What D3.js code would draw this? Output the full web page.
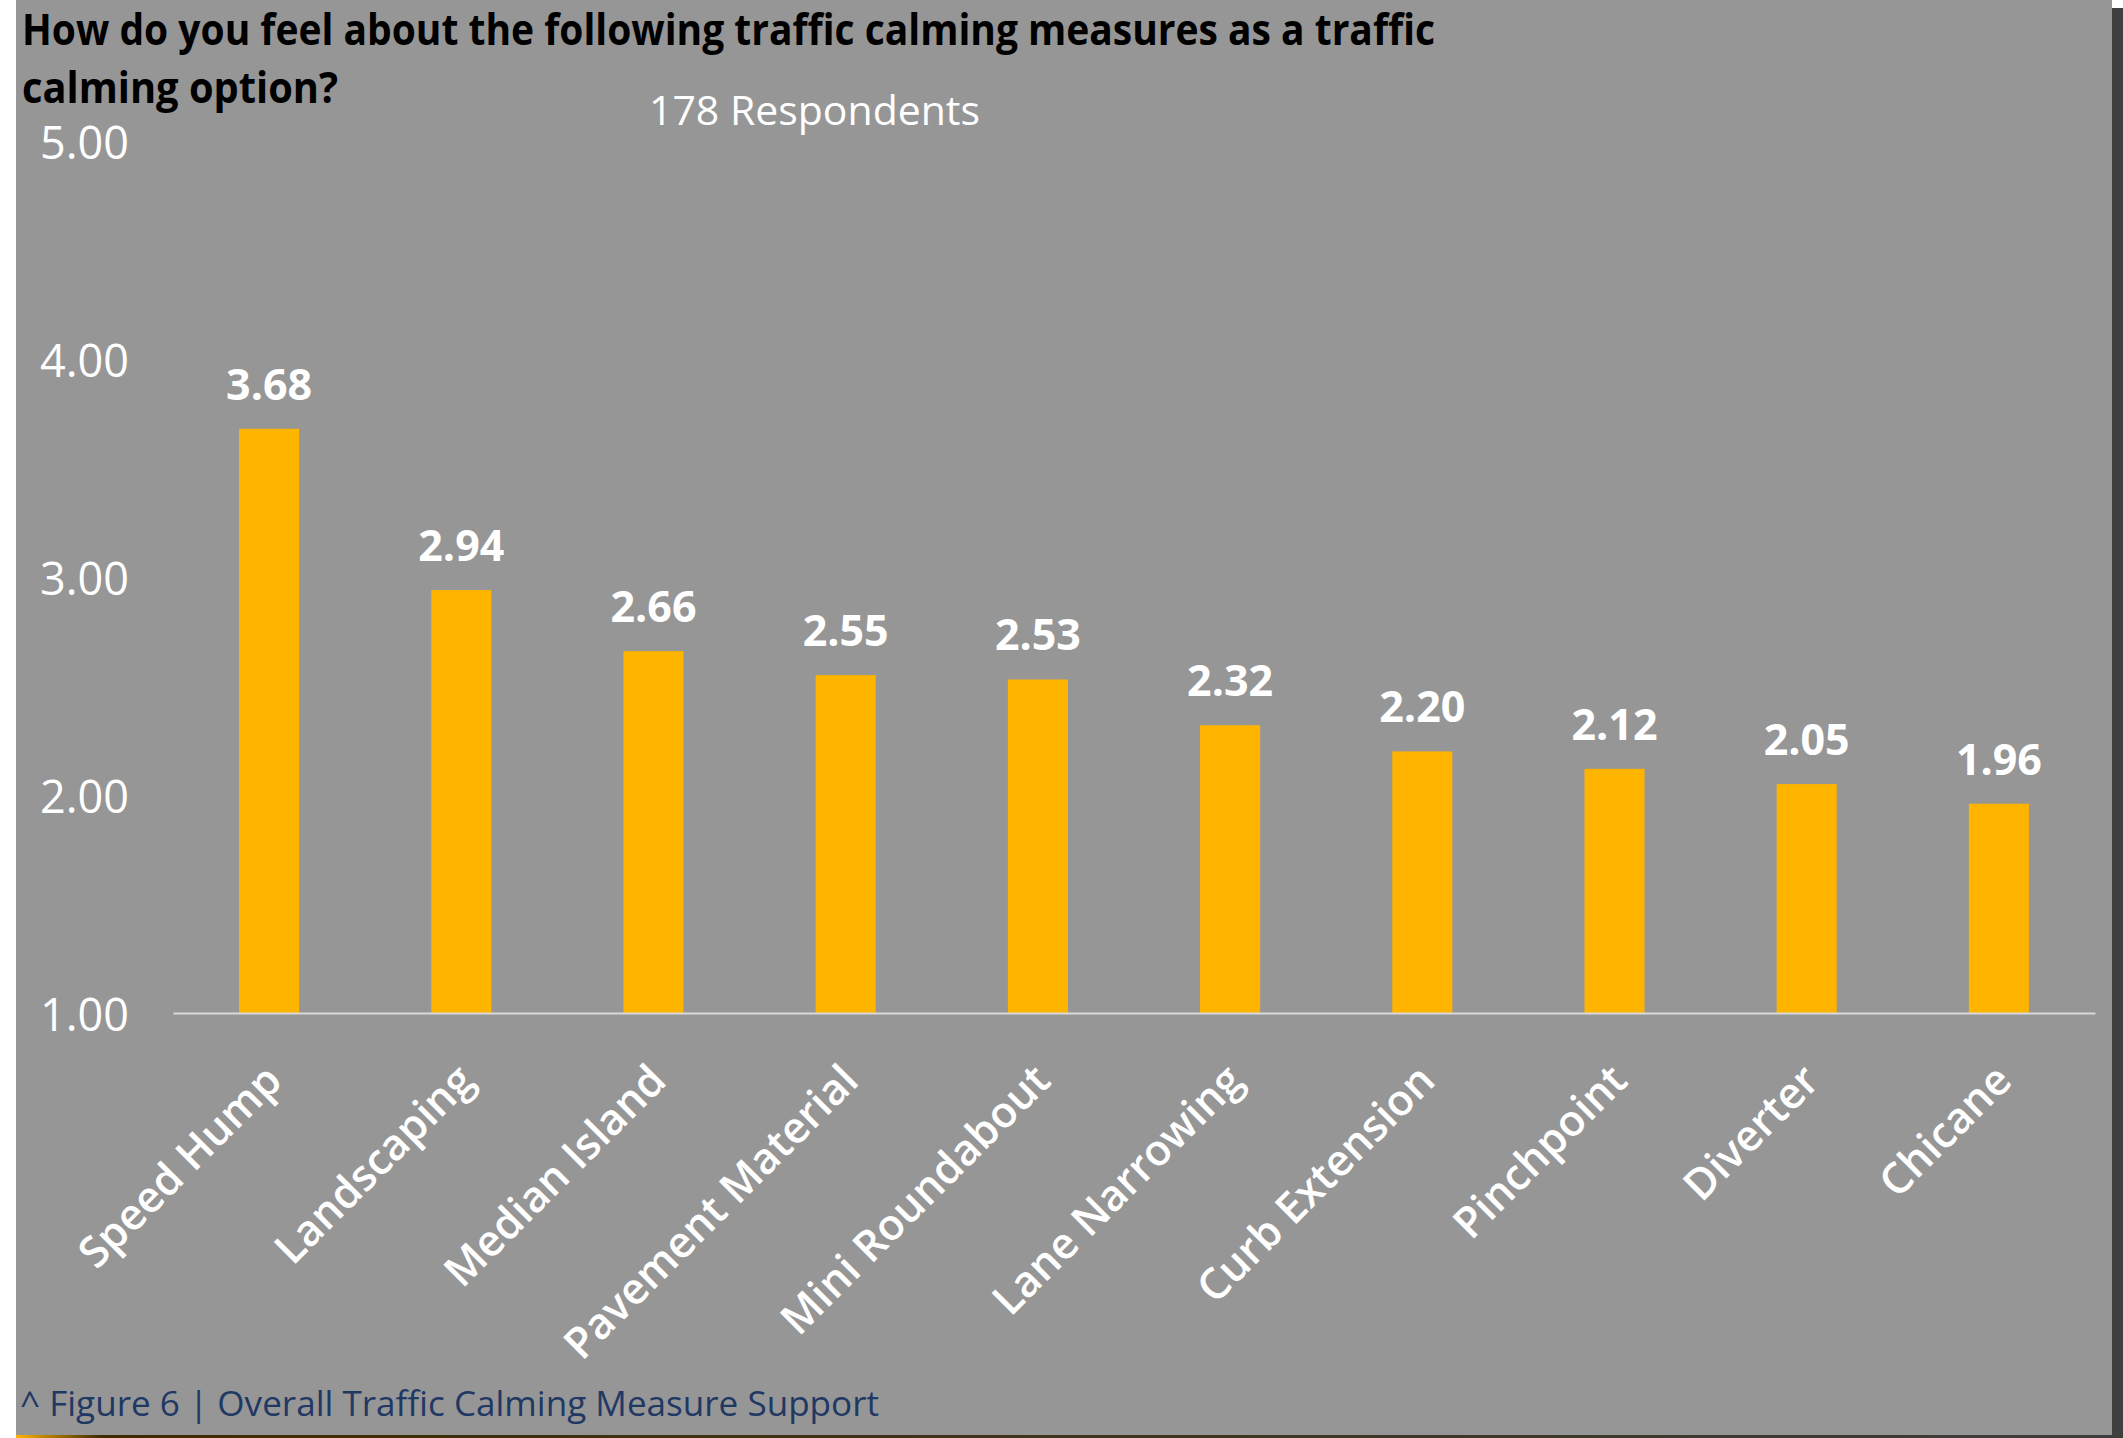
<!DOCTYPE html>
<html>
<head>
<meta charset="utf-8">
<script src="https://cdn.jsdelivr.net/npm/d3@7"></script>
<style>
  html, body { margin: 0; padding: 0; background: #ffffff; }
  svg { display: block; }
  text { font-family: "Open Sans", "Noto Sans", sans-serif; }
</style>
</head>
<body>
<script>
// chart data
const categories = ['Speed Hump', 'Landscaping', 'Median Island', 'Pavement Material',
    'Mini Roundabout', 'Lane Narrowing', 'Curb Extension', 'Pinchpoint', 'Diverter', 'Chicane'];
const scores = [3.68, 2.94, 2.66, 2.55, 2.53, 2.32, 2.20, 2.12, 2.05, 1.96];
const yTicks = [1, 2, 3, 4, 5];
const titleLines = ['How do you feel about the following traffic calming measures as a traffic',
    'calming option?'];
const subtitle = '178 Respondents';
const caption = '^ Figure 6 | Overall Traffic Calming Measure Support';

const width = 2123, height = 1438;

const svg = d3.select('body').append('svg')
    .attr('width', width)
    .attr('height', height);

// page frame: grey panel with dark right / bottom edge
const defs = svg.append('defs');
const edge = defs.append('linearGradient').attr('id', 'bottomEdge');
edge.append('stop').attr('offset', '0%').attr('stop-color', '#ffb400');
edge.append('stop').attr('offset', '4%').attr('stop-color', '#3d2c00');
edge.append('stop').attr('offset', '100%').attr('stop-color', '#3d3d3d');

svg.append('rect').attr('x', 16).attr('y', 0).attr('width', 2096).attr('height', 1435)
    .attr('fill', '#969696');
svg.append('rect').attr('x', 2112).attr('y', 8).attr('width', 11).attr('height', 1430)
    .attr('fill', '#404040');
svg.append('rect').attr('x', 16).attr('y', 1435).attr('width', 2107).attr('height', 3)
    .attr('fill', 'url(#bottomEdge)');

// scales
const x = d3.scaleBand()
    .domain(categories)
    .range([173, 2095])
    .paddingInner(0.6875)
    .paddingOuter(0.34375);

const y = d3.scaleLinear()
    .domain([1, 5])
    .range([1013, 141]);

// y axis labels only
const yAxis = svg.append('g')
    .attr('transform', 'translate(129,0)')
    .call(d3.axisLeft(y).tickValues(yTicks).tickFormat(d3.format('.2f')).tickSize(0).tickPadding(0));
yAxis.select('.domain').remove();
yAxis.selectAll('text')
    .attr('dy', '0.38em')
    .attr('fill', '#ffffff')
    .style('font-family', '"Open Sans", sans-serif')
    .style('font-size', '45px');

// bars
svg.append('g').selectAll('rect')
    .data(scores)
    .join('rect')
    .attr('x', (d, i) => x(categories[i]))
    .attr('y', d => y(d))
    .attr('width', x.bandwidth())
    .attr('height', d => y(1) - y(d))
    .attr('fill', '#ffb400');

// value labels
svg.append('g').selectAll('text')
    .data(scores)
    .join('text')
    .attr('x', (d, i) => x(categories[i]) + x.bandwidth() / 2)
    .attr('y', d => y(d) - 29)
    .attr('text-anchor', 'middle')
    .attr('fill', '#ffffff')
    .style('font-weight', 700)
    .style('font-size', '43px')
    .text(d => d.toFixed(2));

// x axis: base line and rotated category names
const xAxis = svg.append('g')
    .attr('transform', `translate(0,${y(1)})`)
    .call(d3.axisBottom(x).tickSize(0).tickSizeOuter(0));
xAxis.select('.domain')
    .attr('stroke', '#d9d9d9')
    .attr('stroke-width', 2);
xAxis.selectAll('text')
    .attr('y', 0)
    .attr('dy', 0)
    .attr('text-anchor', 'end')
    .attr('transform', 'translate(15,70) rotate(-45)')
    .attr('fill', '#ffffff')
    .style('font-family', '"Open Sans", sans-serif')
    .style('font-weight', 600)
    .style('font-size', '43px');

// titles
svg.append('g').selectAll('text')
    .data(titleLines)
    .join('text')
    .attr('x', 22)
    .attr('y', (d, i) => 45 + i * 58)
    .attr('textLength', (d, i) => i === 0 ? 1413 : 316)
    .attr('lengthAdjust', 'spacingAndGlyphs')
    .attr('fill', '#000000')
    .style('font-weight', 700)
    .style('font-size', '43px')
    .text(d => d);

svg.append('text')
    .attr('x', 649)
    .attr('y', 125)
    .attr('textLength', 331)
    .attr('lengthAdjust', 'spacingAndGlyphs')
    .attr('fill', '#ffffff')
    .style('font-size', '40px')
    .text(subtitle);

svg.append('text')
    .attr('x', 20)
    .attr('y', 1416)
    .attr('textLength', 859)
    .attr('lengthAdjust', 'spacingAndGlyphs')
    .attr('fill', '#1f3864')
    .style('font-size', '35px')
    .text(caption);
</script>
</body>
</html>
